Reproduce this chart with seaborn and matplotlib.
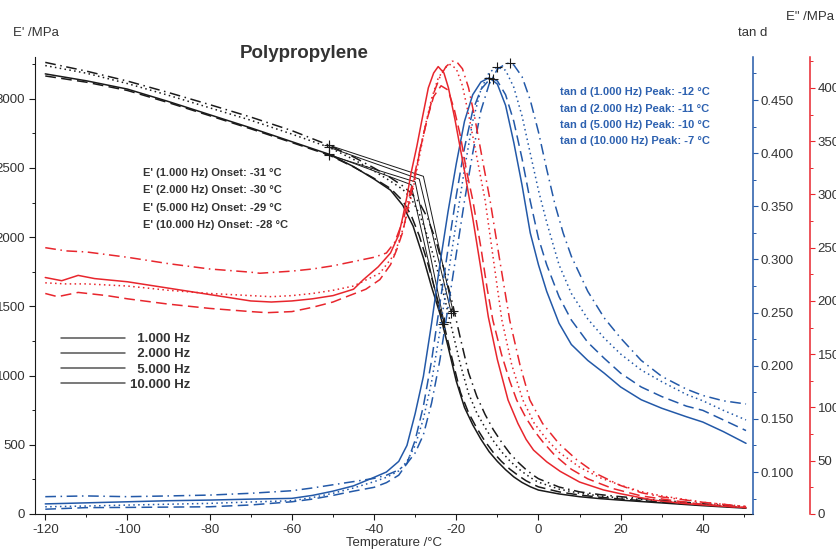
import pandas as pd
import seaborn as sns
import matplotlib.pyplot as plt
from matplotlib.ticker import MultipleLocator, FormatStrFormatter
from matplotlib.lines import Line2D

# Frequencies
frequencies = ['1.000 Hz', '2.000 Hz', '5.000 Hz', '10.000 Hz']

# E' storage modulus (MPa)
temp_storage_1 = [-120, -110, -100, -90, -80, -70, -60, -51, -45, -40, -36, -33, -30.5, -28, -26, -24, -22, -20,
                  -18, -16, -14, -12, -10, -8, -6, -4, -2, 0, 5, 10, 15, 20, 30, 40, 50.5]
storage_1 = [3180, 3130, 3070, 2980, 2885, 2790, 2690, 2600, 2510, 2420, 2340, 2230, 2080, 1850, 1640, 1450, 1210, 960,
             770, 645, 540, 450, 380, 320, 268, 228, 197, 173, 145, 125, 111, 100, 80, 60, 42]
temp_storage = [-120, -110, -100, -90, -80, -70, -60, -51, -45, -40, -36, -33, -31, -29, -27, -25, -23, -21,
                -19, -17, -15, -13, -11, -9, -7, -5, -3, -1, 0, 5, 10, 15, 20, 30, 40, 50.5]
storage_2 = [3165, 3120, 3060, 2972, 2878, 2783, 2684, 2594, 2508, 2425, 2352, 2262, 2160, 2010, 1820, 1600, 1370, 1120,
             880, 730, 620, 525, 445, 380, 325, 280, 240, 210, 196, 160, 137, 121, 108, 86, 65, 45]
storage_5 = [3240, 3185, 3110, 3025, 2935, 2845, 2745, 2650, 2562, 2478, 2405, 2345, 2280, 2170, 2010, 1810, 1580, 1330,
             1080, 870, 730, 625, 530, 450, 385, 330, 285, 245, 230, 180, 150, 130, 116, 92, 70, 48]
storage_10 = [3263, 3200, 3128, 3045, 2958, 2868, 2770, 2665, 2580, 2500, 2430, 2370, 2320, 2250, 2140, 1980, 1770, 1530,
              1270, 1020, 850, 720, 610, 520, 440, 375, 320, 275, 255, 195, 160, 140, 125, 99, 74, 50]

# tan d
temp_tan = [-120, -110, -100, -90, -80, -70, -60, -55, -50, -45, -40, -37, -34, -32, -30, -28, -26, -24, -22, -20,
            -18, -16, -14, -12, -10, -8, -6, -4, -2, 0, 2, 5, 8, 12, 16, 20, 25, 30, 36, 40, 45, 50.5]
tan_1 = [0.070, 0.071, 0.072, 0.073, 0.0736, 0.0745, 0.0752, 0.078, 0.082, 0.087, 0.095, 0.100, 0.110, 0.125, 0.155,
         0.19, 0.24, 0.295, 0.345, 0.39, 0.43, 0.455, 0.467, 0.471, 0.465, 0.445, 0.41, 0.37, 0.325, 0.295,
         0.27, 0.24, 0.22, 0.205, 0.193, 0.18, 0.168, 0.16, 0.152, 0.147, 0.138, 0.127]
temp_tan_2 = [-120, -110, -100, -90, -80, -70, -60, -55, -50, -45, -40, -37, -34, -32, -30, -28, -26, -24, -22, -20,
              -18, -16, -14, -12, -11, -10, -8, -6, -4, -2, 0, 2, 5, 8, 12, 16, 20, 25, 30, 36, 40, 45, 50.5]
tan_2 = [0.065, 0.0665, 0.0667, 0.067, 0.0673, 0.069, 0.072, 0.0745, 0.078, 0.082, 0.0856, 0.090, 0.097, 0.108, 0.130,
         0.162, 0.205, 0.258, 0.31, 0.36, 0.405, 0.44, 0.46, 0.469, 0.470, 0.468, 0.455, 0.43, 0.395, 0.355,
         0.32, 0.295, 0.265, 0.243, 0.222, 0.207, 0.193, 0.18, 0.171, 0.162, 0.158, 0.149, 0.139]
tan_5 = [0.0673, 0.068, 0.0689, 0.0697, 0.0705, 0.0718, 0.073, 0.076, 0.080, 0.085, 0.0909, 0.095, 0.101, 0.110, 0.125,
         0.150, 0.185, 0.232, 0.285, 0.335, 0.385, 0.43, 0.46, 0.476, 0.481, 0.478, 0.462, 0.435, 0.40, 0.365,
         0.335, 0.295, 0.268, 0.244, 0.226, 0.211, 0.196, 0.185, 0.173, 0.167, 0.158, 0.149]
temp_tan_10 = [-120, -110, -100, -90, -80, -70, -60, -55, -50, -45, -40, -37, -34, -32, -30, -28, -26, -24, -22, -20,
               -18, -16, -14, -12, -10, -8, -7, -6, -4, -2, 0, 2, 4, 6, 8, 12, 16, 20, 25, 30, 36, 40, 45, 50.5]
tan_10 = [0.0768, 0.0775, 0.0768, 0.0775, 0.0783, 0.080, 0.0824, 0.085, 0.088, 0.091, 0.094, 0.097, 0.102, 0.108, 0.118,
          0.135, 0.165, 0.205, 0.255, 0.305, 0.355, 0.40, 0.44, 0.465, 0.479, 0.484, 0.485, 0.483, 0.472, 0.45,
          0.42, 0.385, 0.352, 0.325, 0.303, 0.27, 0.245, 0.226, 0.205, 0.19, 0.178, 0.172, 0.167, 0.164]

# E'' loss modulus (MPa)
temp_loss_1 = [-120, -116, -112, -108, -100, -90, -80, -70, -65, -60, -55, -50, -45, -42.6, -39, -36, -34, -33, -32, -31,
               -29.6, -28.4, -26.8, -25.5, -24.4, -23, -21.9, -20.3, -18, -16, -14, -12.2, -10, -7.4, -5, -3, -1.2,
               2, 5.3, 10, 15.8, 20, 28, 35, 42, 50.5]
loss_1 = [222, 219, 224, 221, 218, 212, 206, 200, 199, 200, 202, 205, 211, 220, 232, 245, 262, 279, 298, 320,
          345, 369, 400, 414, 420, 414, 400, 370, 322, 278, 230, 185, 145, 107, 85, 70, 60,
          49, 40, 30, 22.6, 19, 13, 10, 8, 6]
temp_loss_2 = [-120, -117, -112, -105, -100, -90, -80, -70, -66, -60, -55, -50, -46.7, -42, -38.6, -36, -34.5, -33, -31.7,
               -30, -28.8, -27, -25.5, -23.7, -22, -20.5, -19, -17.5, -16, -14, -12.5, -11.1, -9, -7, -5.3, -3, -1,
               1, 4, 8, 12, 18, 25, 32, 40, 50.5]
loss_2 = [207, 204, 208, 205, 202, 197, 193, 190, 189, 190, 194, 199, 204, 211, 220, 234, 248, 265, 289,
          318, 342, 372, 392, 402, 398, 380, 355, 322, 295, 250, 212, 182, 150, 125, 107, 90, 78,
          68, 55, 42, 33, 24, 17, 13, 9, 6]
temp_loss_5 = [-120, -115, -110, -100, -90, -80, -70, -65, -60, -55, -50, -45, -38.6, -35, -32.5, -30.5, -29, -27.5,
               -26, -24.5, -23, -21.5, -20, -18.5, -17, -15, -13, -11, -8.9, -6.5, -3.8, -1, 2, 5, 10, 15, 20, 25,
               30, 40, 50.5]
loss_5 = [217, 216, 216, 214, 210, 207, 205, 204, 205, 207, 210, 214, 226, 244, 273, 305, 335, 365,
          390, 408, 418, 422, 418, 402, 375, 335, 295, 240, 182, 140, 107, 85, 70, 58, 44, 34, 27, 21,
          17, 11, 7]
temp_loss_10 = [-120, -115, -110, -100, -90, -80, -70, -67.8, -60, -55, -50, -45, -40, -37, -35, -32.9, -30.4, -28.5,
                -27, -25.5, -24, -22.5, -21, -20, -18.5, -17, -15.5, -13.5, -11.8, -9.5, -7, -4.5, -2.1, 1, 5, 9.3,
                14, 19.8, 25, 30, 40, 50.5]
loss_10 = [250, 247, 246, 241, 235, 230, 227, 226, 228, 230, 233, 237, 241, 245, 255, 276, 314, 348,
           372, 395, 410, 420, 425, 425, 418, 400, 372, 330, 295, 240, 182, 140, 107, 85, 66, 51,
           38, 27, 20, 16, 11, 7]

# Onset construction (tangent lines) and evaluated results
onset_temp = [-31, -30, -29, -28]
onset_modulus = [2380, 2400, 2420, 2440]
tangent_start_temp = [-51, -51, -51, -51]
tangent_start_modulus = [2600, 2594, 2650, 2665]
tangent_end_temp = [-23.3, -23.0, -21.2, -20.8]
tangent_end_modulus = [1370, 1390, 1450, 1465]
peak_temp = [-12, -11, -10, -7]

black = '#1a1a1a'
red = '#e8262d'
blue = '#2359a8'
blue_text = '#2d61b0'
grey_text = '#333333'
dash_map = {'1.000 Hz': '', '2.000 Hz': (7, 3.5), '5.000 Hz': (1, 2.2), '10.000 Hz': (7, 3, 1, 3)}


def long_form(pairs):
    parts = [pd.DataFrame({'temp': t, 'value': v, 'freq': f}) for f, (t, v) in zip(frequencies, pairs)]
    return pd.concat(parts, ignore_index=True)


df_storage = long_form([(temp_storage_1, storage_1), (temp_storage, storage_2),
                        (temp_storage, storage_5), (temp_storage, storage_10)])
df_tan = long_form([(temp_tan, tan_1), (temp_tan_2, tan_2), (temp_tan, tan_5), (temp_tan_10, tan_10)])
df_loss = long_form([(temp_loss_1, loss_1), (temp_loss_2, loss_2), (temp_loss_5, loss_5), (temp_loss_10, loss_10)])

sns.set_style('ticks')
plt.rcParams['font.family'] = ['Liberation Sans', 'DejaVu Sans']
plt.rcParams['axes.unicode_minus'] = False

fig = plt.figure(figsize=(8.37, 5.5), dpi=100)
ax = fig.add_axes([35 / 837, 36 / 550, 718 / 837, 457 / 550])
ax_tan = ax.twinx()
ax_loss = ax.twinx()

common = dict(x='temp', y='value', style='freq', dashes=dash_map, style_order=frequencies,
              legend=False, errorbar=None, sort=False, lw=1.1)
sns.lineplot(data=df_storage, color=black, ax=ax, **common)
sns.lineplot(data=df_tan, color=blue, ax=ax_tan, **common)
sns.lineplot(data=df_loss, color=red, ax=ax_loss, **common)

# Onset tangents on E'
for i in range(len(frequencies)):
    sns.lineplot(x=[tangent_start_temp[i], onset_temp[i], tangent_end_temp[i]],
                 y=[tangent_start_modulus[i], onset_modulus[i], tangent_end_modulus[i]],
                 color=black, lw=0.7, ax=ax, sort=False, legend=False, errorbar=None)
ax.plot(tangent_start_temp + tangent_end_temp, tangent_start_modulus + tangent_end_modulus,
        ls='none', marker='+', ms=7, mew=0.8, color=black)

# tan d peak markers
for t, v in [(temp_tan, tan_1), (temp_tan_2, tan_2), (temp_tan, tan_5), (temp_tan_10, tan_10)]:
    k = v.index(max(v))
    ax_tan.plot([t[k]], [v[k]], ls='none', marker='+', ms=7, mew=0.8, color=black)

# Axes limits and ticks
ax.set_xlim(-122.5, 52.2)
ax.set_ylim(0, 3302)
ax_tan.set_ylim(0.0605, 0.4905)
ax_loss.set_ylim(0, 429)

ax.xaxis.set_major_locator(MultipleLocator(20))
ax.xaxis.set_minor_locator(MultipleLocator(10))
ax.yaxis.set_major_locator(MultipleLocator(500))
ax.yaxis.set_minor_locator(MultipleLocator(250))
ax_tan.yaxis.set_major_locator(MultipleLocator(0.05))
ax_tan.yaxis.set_minor_locator(MultipleLocator(0.025))
ax_tan.yaxis.set_major_formatter(FormatStrFormatter('%.3f'))
ax_loss.yaxis.set_major_locator(MultipleLocator(50))
ax_loss.yaxis.set_minor_locator(MultipleLocator(25))

ax.tick_params(axis='both', which='major', length=4.5, width=0.8, color=black, labelsize=9.5,
               labelcolor=grey_text, pad=2.5)
ax.tick_params(axis='both', which='minor', length=2.5, width=0.7, color=black)
ax_tan.tick_params(axis='y', which='major', length=3.5, width=0.8, color=blue, labelsize=9.5,
                   labelcolor=grey_text, pad=2)
ax_tan.tick_params(axis='y', which='minor', length=2, width=0.7, color=blue)
ax_loss.tick_params(axis='y', which='major', length=3.5, width=0.8, color=red, labelsize=9.5,
                    labelcolor=grey_text, pad=2)
ax_loss.tick_params(axis='y', which='minor', length=2, width=0.7, color=red)

for a in (ax, ax_tan, ax_loss):
    a.spines['top'].set_visible(False)
ax.spines['right'].set_visible(False)
ax.spines['left'].set_color(black)
ax.spines['bottom'].set_color(black)
ax_tan.spines['left'].set_visible(False)
ax_tan.spines['bottom'].set_visible(False)
ax_tan.spines['right'].set_color(blue)
ax_tan.spines['right'].set_linewidth(1.1)
ax_loss.spines['left'].set_visible(False)
ax_loss.spines['bottom'].set_visible(False)
ax_loss.spines['right'].set_position(('outward', 57 * 0.72))
ax_loss.spines['right'].set_color(red)
ax_loss.spines['right'].set_linewidth(1.1)

ax.set_xlabel('Temperature /°C', fontsize=9.5, color=grey_text, labelpad=1)
ax.set_ylabel('')
ax_tan.set_ylabel('')
ax_loss.set_ylabel('')

# Axis captions and title
fig.text(13 / 837, 1 - 33 / 550, "E' /MPa", fontsize=9.5, color=grey_text, va='center', ha='left')
fig.text(738 / 837, 1 - 33 / 550, 'tan d', fontsize=9.5, color=grey_text, va='center', ha='left')
fig.text(786 / 837, 1 - 17 / 550, 'E" /MPa', fontsize=9.5, color=grey_text, va='center', ha='left')
fig.text(304 / 837, 1 - 53 / 550, 'Polypropylene', fontsize=13.5, fontweight='bold', color=grey_text,
         va='center', ha='center')

# Evaluation results
for i, f in enumerate(frequencies):
    fig.text(143 / 837, 1 - (173 + 17.3 * i) / 550, f"E' ({f}) Onset: {onset_temp[i]} °C",
             fontsize=8, fontweight='bold', color=grey_text, va='center', ha='left')
    fig.text(560 / 837, 1 - (92 + 16.5 * i) / 550, f"tan d ({f}) Peak: {peak_temp[i]} °C",
             fontsize=8, fontweight='bold', color=blue_text, va='center', ha='left')

# Legend
handles = [Line2D([], [], color='#555555', lw=1.1) for _ in frequencies]
labels = ['  ' + f if len(f) < 9 else f for f in frequencies]
ax.legend(handles, labels, loc='upper left', bbox_to_anchor=(0.0362, 0.396), frameon=False,
          handlelength=4.85, handletextpad=0.4, labelspacing=0.22, borderpad=0, borderaxespad=0,
          prop={'weight': 'bold', 'size': 9.5}, labelcolor=grey_text)

fig.savefig('out.png', dpi=100)
